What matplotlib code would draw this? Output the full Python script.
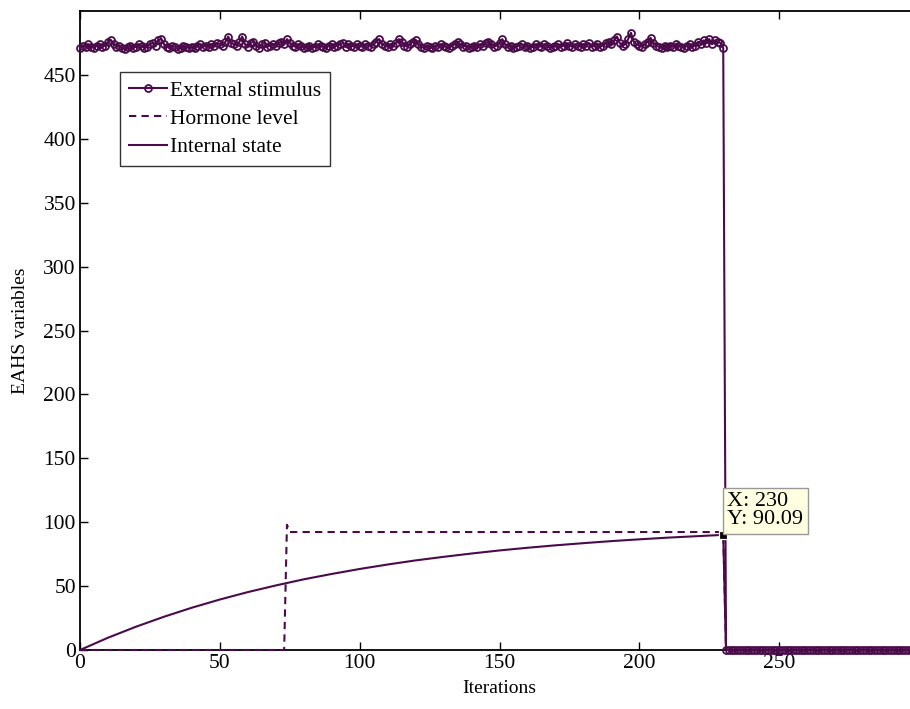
import numpy as np
import matplotlib.pyplot as plt

plt.rcParams['font.family'] = ['Liberation Serif', 'DejaVu Serif']

COR = '#4b0b4b'

# estimulo externo, um valor por iteracao (0..230), depois zero ate 300
estimulo = [
    471, 473, 472, 474, 472, 471, 473, 474, 472, 473,
    476, 477, 474, 472, 473, 471, 470, 472, 473, 471,
    472, 474, 473, 471, 472, 474, 475, 473, 477, 478,
    474, 472, 471, 473, 472, 470, 471, 473, 472, 471,
    472, 471, 473, 474, 472, 473, 472, 474, 473, 475,
    474, 473, 476, 480, 475, 474, 473, 476, 480, 474,
    472, 475, 476, 473, 471, 474, 475, 472, 473, 474,
    473, 475, 476, 474, 478, 475, 473, 472, 474, 473,
    471, 472, 473, 471, 472, 474, 473, 472, 471, 473,
    474, 472, 473, 474, 475, 472, 474, 473, 472, 474,
    473, 472, 474, 473, 472, 474, 476, 478, 474, 473,
    472, 474, 473, 475, 478, 476, 473, 472, 474, 476,
    477, 474, 472, 471, 473, 472, 471, 473, 472, 474,
    473, 472, 471, 473, 474, 476, 474, 472, 473, 471,
    472, 473, 472, 474, 473, 475, 476, 474, 472, 473,
    475, 478, 474, 472, 473, 471, 472, 473, 474, 472,
    473, 471, 472, 474, 473, 472, 474, 473, 471, 472,
    473, 474, 472, 473, 475, 473, 472, 474, 473, 472,
    474, 473, 475, 472, 473, 474, 472, 473, 475, 476,
    474, 477, 480, 475, 473, 474, 478, 483, 476, 474,
    473, 472, 474, 476, 479, 475, 473, 472, 471, 473,
    472, 473, 472, 474, 473, 472, 471, 473, 474, 472,
    473, 476, 474, 477, 475, 478, 474, 477, 476, 475,
    471,
] + [0] * 70

hormonio_x = [0, 73, 74, 75, 230, 231, 300]
hormonio_y = [0, 0, 98, 92.3, 92.3, 0, 0]

interno_x = [0, 10, 20, 30, 40, 50, 60, 70, 80, 90, 100, 110, 120, 130, 140,
             150, 160, 170, 180, 190, 200, 210, 220, 230, 231, 300]
interno_y = [0, 9.6, 18.2, 26.0, 33.1, 39.5, 45.3, 50.5, 55.3, 59.5, 63.4,
             66.9, 70.1, 72.9, 75.5, 77.9, 80.0, 81.9, 83.6, 85.2, 86.6,
             87.9, 89.0, 90.09, 0, 0]

x_tip, y_tip = 230, 90.09

fig = plt.figure(figsize=(9.1, 7.09), dpi=100)
ax = fig.add_axes([80 / 910, 59 / 709, 839 / 910, 639 / 709])

ax.plot(np.arange(len(estimulo)), estimulo, color=COR, lw=1.5, marker='o',
        markersize=5, mfc='none', mec=COR, mew=1.3, label='External stimulus',
        clip_on=False, zorder=3)
ax.plot(hormonio_x, hormonio_y, color=COR, lw=1.5, ls=(0, (3.5, 2.5)),
        label='Hormone level', clip_on=False, zorder=3)
ax.plot(interno_x, interno_y, color=COR, lw=1.5, label='Internal state',
        clip_on=False, zorder=3)

ax.plot([x_tip], [y_tip], marker='s', color='black', mec='#ffffcc',
        markersize=6, mew=0.9, zorder=4)
ax.annotate(f'X: {x_tip}\nY: {y_tip}', xy=(x_tip, y_tip), xytext=(3, 4),
            textcoords='offset points', ha='left', va='bottom', fontsize=16,
            linespacing=0.95, zorder=5,
            bbox=dict(boxstyle='square,pad=0.2', fc='#ffffe1', ec='#999999', lw=1))

ax.set_xlim(0, 300)
ax.set_ylim(0, 500)
ax.set_xticks(np.arange(0, 301, 50))
ax.set_xticklabels(['0', '50', '100', '150', '200', '250', ''])
ax.set_yticks(np.arange(0, 451, 50))
ax.tick_params(direction='in', top=True, right=True, length=5.8, width=1.0,
               labelsize=15.5, pad=3)
for s in ax.spines.values():
    s.set_linewidth(1.3)

ax.set_xlabel('Iterations', fontsize=14, labelpad=5)
ax.set_ylabel('EAHS variables', fontsize=14, labelpad=10)

leg = ax.legend(loc='upper left', bbox_to_anchor=(40 / 839, 1 - 61 / 639),
                fontsize=15.5, frameon=True, fancybox=False, edgecolor='black',
                handlelength=1.8, handletextpad=0.12, borderpad=0.4,
                labelspacing=0.38, borderaxespad=0)
leg.get_frame().set_linewidth(1.0)
leg.set_zorder(6)

fig.savefig('out.png', dpi=100)
